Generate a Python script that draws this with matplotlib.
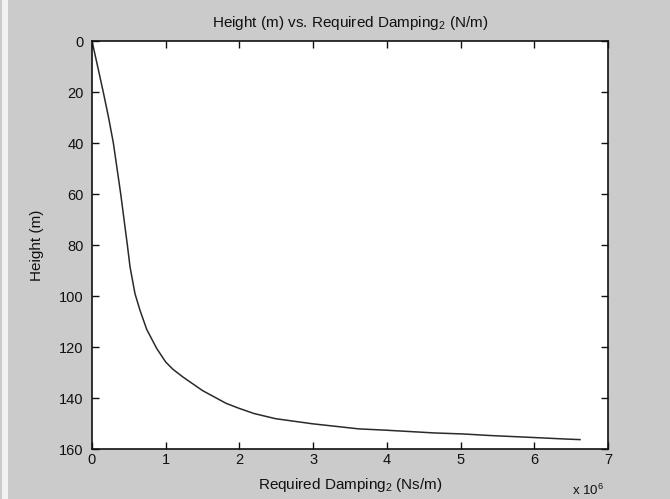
import matplotlib
matplotlib.use("Agg")
import matplotlib.pyplot as plt
from matplotlib.patches import Rectangle

plt.rcParams['font.family'] = ['Liberation Sans', 'DejaVu Sans']
plt.rcParams['mathtext.fontset'] = 'custom'
plt.rcParams['mathtext.rm'] = 'Liberation Sans'
plt.rcParams['mathtext.it'] = 'Liberation Sans:italic'

# Data: required damping (x 10^6 Ns/m) vs height (m)
damping = [0, 0.077, 0.153, 0.225, 0.29, 0.34, 0.39, 0.435, 0.48, 0.516, 0.583,
           0.651, 0.742, 0.878, 1.0, 1.10, 1.23, 1.5, 1.82, 2.0, 2.2, 2.49,
           2.99, 3.62, 3.98, 4.65, 5.04, 5.40, 6.08, 6.44, 6.62]
height = [0, 10, 20, 30, 40, 50, 60, 70, 80, 88.5, 99,
          105.5, 113, 120.5, 125.8, 128.7, 131.6, 137, 142, 144, 146, 148,
          150, 152, 152.5, 153.6, 154, 154.6, 155.5, 156, 156.2]
x_ticks = [0, 1, 2, 3, 4, 5, 6, 7]
y_ticks = [0, 20, 40, 60, 80, 100, 120, 140, 160]

bg = '#cbcbcb'
fig = plt.figure(figsize=(6.70, 4.99), dpi=100, facecolor=bg)
ax = fig.add_axes([0.1373, 0.0996, 0.7702, 0.8182])
ax.set_facecolor('white')

ax.plot(damping, height, color='#2a2a2a', linewidth=1.1)

ax.set_xlim(0, 7)
ax.set_ylim(160, 0)
ax.set_xticks(x_ticks)
ax.set_yticks(y_ticks)
ax.set_xticklabels([str(t) for t in x_ticks])
ax.set_yticklabels([str(t) for t in y_ticks])

ax.tick_params(direction='in', length=5, width=1, top=True, right=True,
               labelsize=10.5, colors='#111111', pad=3)
ax.tick_params(axis='y', pad=6)
for s in ax.spines.values():
    s.set_linewidth(1.2)
    s.set_color('#111111')

ax.set_title('Height (m) vs. Required Damping$_2$ (N/m)', fontsize=11,
             color='#111111', pad=10)
ax.set_xlabel('Required Damping$_2$ (Ns/m)', fontsize=11, color='#111111',
              labelpad=6)
ax.set_ylabel('Height (m)', fontsize=11, color='#111111', labelpad=11)

fig.text(588 / 670, 1 - 490 / 499, 'x 10$^6$', fontsize=9.5, color='#111111',
         ha='center', va='center')

# light strip at the left edge of the scan
fig.add_artist(Rectangle((2 / 670, 0), 6 / 670, 1, transform=fig.transFigure,
                         facecolor='#f2f2f2', edgecolor='none'))

fig.savefig('out.png', dpi=100, facecolor=bg)
